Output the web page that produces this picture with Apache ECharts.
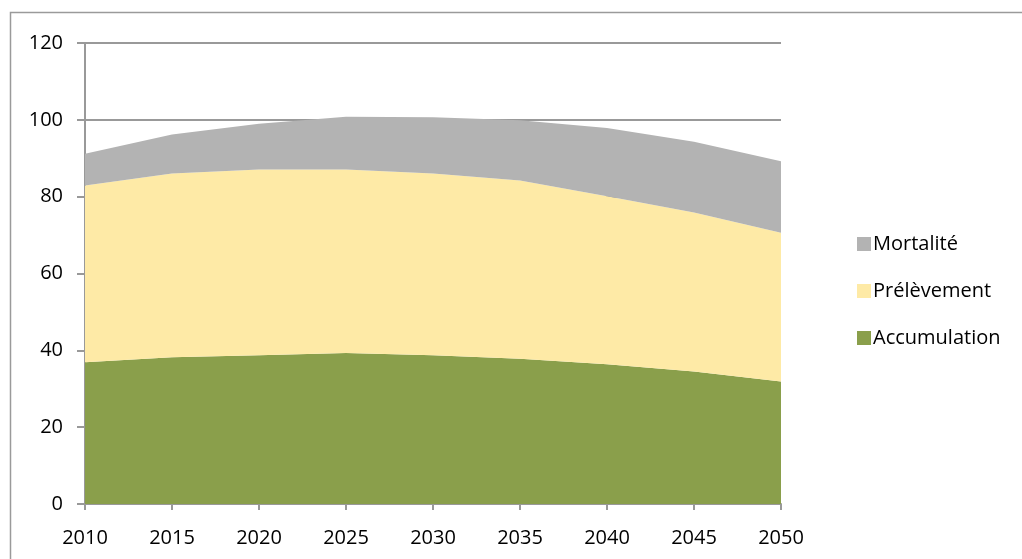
<!DOCTYPE html>
<html>
<head>
<meta charset="utf-8">
<script src="https://cdn.jsdelivr.net/npm/echarts@6/dist/echarts.min.js"></script>
<style>html,body{margin:0;padding:0;background:#fff}#c{width:1022px;height:559px}</style>
</head>
<body>
<div id="c"></div>
<script>
var years = ['2010','2015','2020','2025','2030','2035','2040','2045','2050'];
var accumulation = [36.9, 38.2, 38.7, 39.3, 38.7, 37.8, 36.4, 34.5, 31.9];
var prelevement = [46.0, 47.8, 48.4, 47.8, 47.3, 46.4, 43.7, 41.4, 38.7];
var mortalite = [8.3, 10.2, 11.9, 13.7, 14.7, 15.7, 17.8, 18.4, 18.6];

var chart = echarts.init(document.getElementById('c'));
var font = '"Open Sans", sans-serif';
function area(name, data, color) {
  return {
    name: name, type: 'line', stack: 'total', data: data,
    showSymbol: false, symbol: 'none',
    lineStyle: { width: 0 },
    areaStyle: { color: color, opacity: 1 },
    itemStyle: { color: color },
    emphasis: { disabled: true }
  };
}
chart.setOption({
  animation: false,
  graphic: [{
    type: 'rect', silent: true, z: -1,
    shape: { x: 10.5, y: 12.5, width: 1100, height: 700 },
    style: { fill: 'none', stroke: '#9a9a9a', lineWidth: 1.5 }
  }],
  grid: { left: 85, right: 241, top: 43, bottom: 55 },
  legend: {
    orient: 'vertical', left: 852, top: 229,
    itemWidth: 14, itemHeight: 14, itemGap: 27,
    icon: 'rect',
    data: ['Mortalité', 'Prélèvement', 'Accumulation'],
    textStyle: { fontFamily: font, fontSize: 20, color: '#000', padding: [0, 0, 0, -3] }
  },
  xAxis: {
    type: 'category', data: years, boundaryGap: false,
    axisLine: { lineStyle: { color: '#999', width: 2 } },
    axisTick: { show: true, length: 6, alignWithLabel: true, lineStyle: { color: '#999', width: 2 } },
    axisLabel: { fontFamily: font, fontSize: 20, color: '#000', margin: 24 },
    splitLine: { show: false }
  },
  yAxis: {
    type: 'value', min: 0, max: 120, interval: 20,
    axisLine: { show: true, lineStyle: { color: '#999', width: 2 } },
    axisTick: { show: true, length: 8, lineStyle: { color: '#999', width: 2 } },
    axisLabel: { fontFamily: font, fontSize: 20, color: '#000', margin: 22 },
    splitLine: { show: true, lineStyle: { color: '#999', width: 2 } }
  },
  series: [
    area('Accumulation', accumulation, '#8a9f4b'),
    area('Prélèvement', prelevement, '#feeaa6'),
    area('Mortalité', mortalite, '#b3b3b3')
  ]
});
</script>
</body>
</html>
